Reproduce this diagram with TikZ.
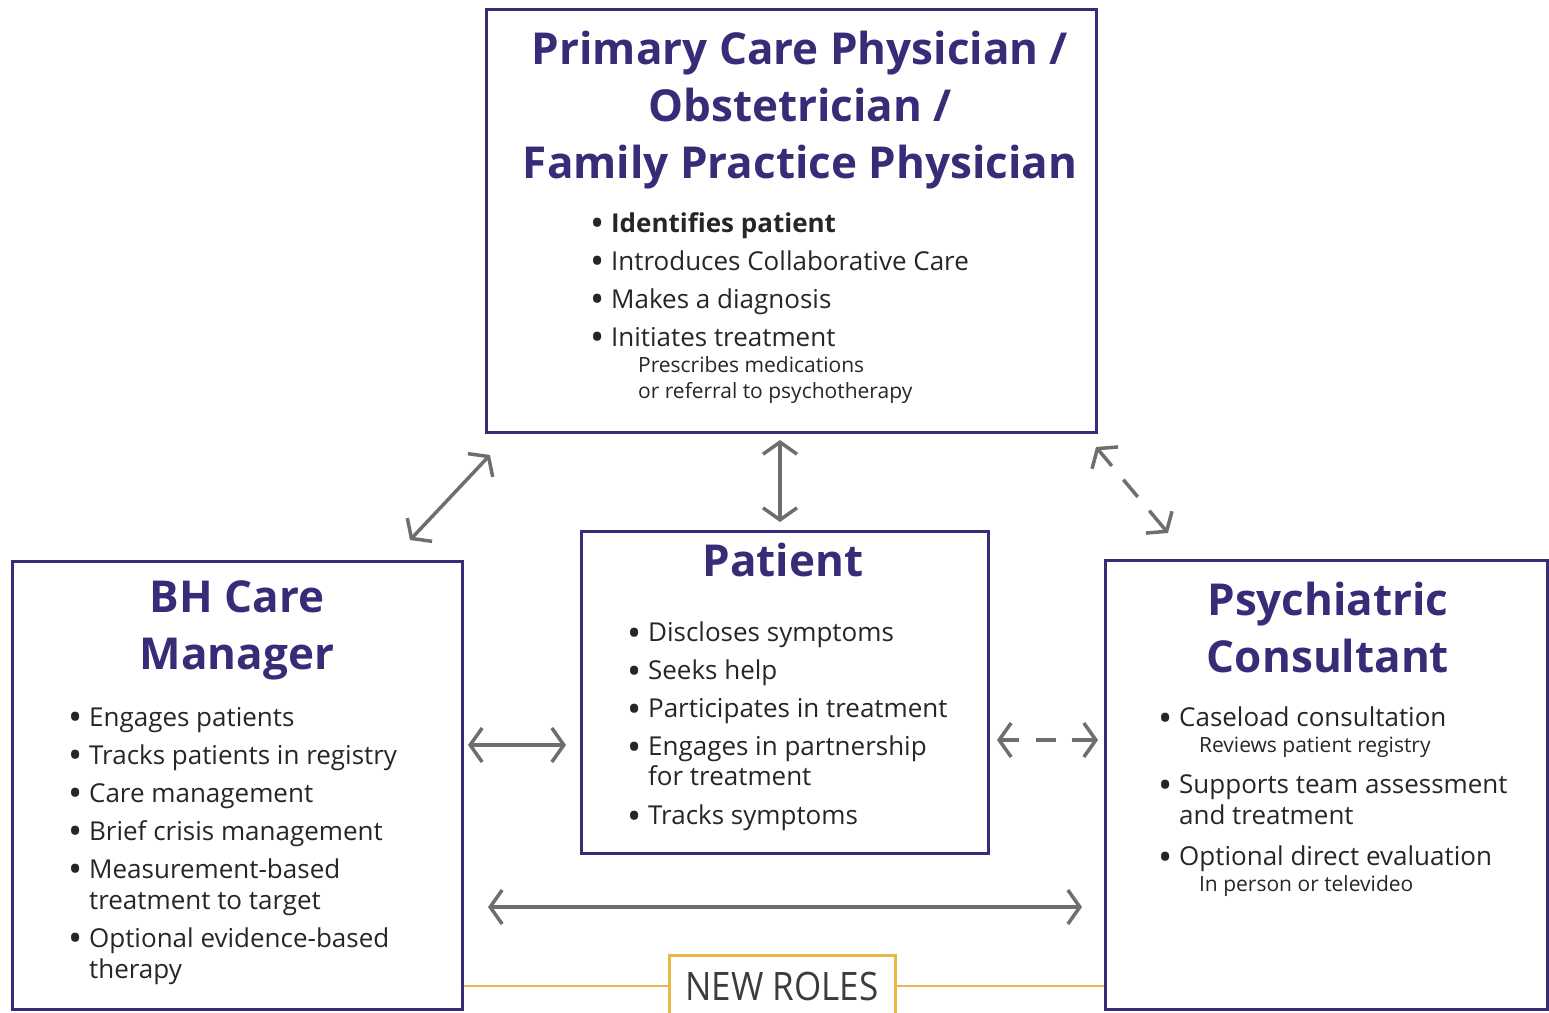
\documentclass[tikz,border=0pt]{standalone}
\usepackage{fontspec}
\setmainfont{Open Sans}
\usetikzlibrary{arrows.meta,calc}
\definecolor{rolepurple}{HTML}{3A2B78}
\definecolor{linkgray}{HTML}{6E6E6E}
\definecolor{newyellow}{HTML}{E8B948}
\definecolor{bodytext}{HTML}{262626}
\newcommand{\bul}{\raisebox{-0.32ex}{\scalebox{1.45}{\textbullet}}\ }
\newcommand{\hang}{\hphantom{\bul}}
\newcommand{\subline}[2][31pt]{{\fontsize{21}{26}\selectfont\hang\hspace{#1}#2}}

\begin{document}
\begin{tikzpicture}[x=1pt, y=-1pt,
    rolebox/.style={draw=rolepurple, line width=3pt, inner sep=0pt},
    roletitle/.style={text=rolepurple, align=center, font=\bfseries\fontsize{44}{57}\selectfont},
    duties/.style={text=bodytext, align=left, anchor=north west, inner sep=0pt, font=\fontsize{26}{38}\selectfont},
    link/.style={draw=linkgray, line width=3.5pt, {Straight Barb[length=12pt, width=34pt]}-{Straight Barb[length=12pt, width=34pt]}},
    halflink/.style={draw=linkgray, line width=3.5pt, -{Straight Barb[length=12pt, width=34pt]}},
    dashpiece/.style={draw=linkgray, line width=3.5pt}]
  \useasboundingbox (0,0) rectangle (1549,1012);

  % Role boxes
  \node[rolebox, minimum width=610pt, minimum height=423pt] (pcp) at (791,220.5) {};
  \node[rolebox, minimum width=407pt, minimum height=322pt] (patient) at (784.5,692) {};
  \node[rolebox, minimum width=450pt, minimum height=448pt] (bh) at (237,785) {};
  \node[rolebox, minimum width=442pt, minimum height=449pt] (psych) at (1326,784.5) {};

  % Titles
  \node[roletitle] (pcptitle) at (800,110) {Primary Care Physician /\\Obstetrician /\\Family Practice Physician};
  \node[roletitle] (patienttitle) at (783,560) {Patient};
  \node[roletitle] (bhtitle) at (237,630) {BH Care\\Manager};
  \node[roletitle] (psychtitle) at (1328,627) {Psychiatric\\Consultant};

  % Duties
  \node[duties] (pcplist) at (590,212) {%
    \bul \textbf{Identifies patient}\\
    \bul Introduces Collaborative Care\\
    \bul Makes a diagnosis\\
    \bul Initiates treatment\\[-12pt]
    \subline{Prescribes medications}\\[-12pt]
    \subline{or referral to psychotherapy}};
  \node[duties] (patientlist) at (627,622) {%
    \bul Discloses symptoms\\
    \bul Seeks help\\
    \bul Participates in treatment\\
    \bul Engages in partnership\\[-8pt]
    \hang for treatment\\[1pt]
    \bul Tracks symptoms};
  \node[duties] (bhlist) at (68,707) {%
    \bul Engages patients\\
    \bul Tracks patients in registry\\
    \bul Care management\\
    \bul Brief crisis management\\
    \bul Measurement-based\\[-7pt]
    \hang treatment to target\\
    \bul Optional evidence-based\\[-7pt]
    \hang therapy};
  \node[duties] (psychlist) at (1158,707) {%
    \bul Caseload consultation\\[-12pt]
    \subline[24pt]{Reviews patient registry}\\[3pt]
    \bul Supports team assessment\\[-7pt]
    \hang and treatment\\[3pt]
    \bul Optional direct evaluation\\[-12pt]
    \subline[24pt]{In person or televideo}};

  % New roles band
  \node[draw=newyellow, line width=3pt, minimum width=226pt, minimum height=62pt,
        text=bodytext!90, font=\fontsize{35}{40}\selectfont] (newroles) at (782,986) {\scalebox{1}[1.12]{NEW ROLES}};
  \draw[newyellow, line width=2.5pt] (bh.east |- newroles.west) -- (newroles.west);
  \draw[newyellow, line width=2.5pt] (newroles.east) -- (psych.west |- newroles.east);

  % Connectors
  \coordinate (bhup) at (410,540);
  \coordinate (pcpleft) at (490,455);
  \coordinate (pcpdown) at (780,440);
  \coordinate (patientup) at (780,522);
  \coordinate (pcpright) at (1096,447);
  \coordinate (psychup) at (1168,533);
  \coordinate (bhright) at (468,745);
  \coordinate (patientleft) at (566,745);
  \coordinate (patientright) at (997,740);
  \coordinate (psychleft) at (1098,740);
  \coordinate (bhlow) at (488,907);
  \coordinate (psychlow) at (1082,907);
  \draw[link] (bhup) -- (pcpleft);
  \draw[link] (pcpdown) -- (patientup);
  \draw[link] (bhright) -- (patientleft);
  \draw[link] (bhlow) -- (psychlow);

  % dashed links: solid tips, one dash between
  \draw[halflink] ($(pcpright)!0.22!(psychup)$) -- (pcpright);
  \draw[dashpiece] ($(pcpright)!0.38!(psychup)$) -- ($(pcpright)!0.58!(psychup)$);
  \draw[halflink] ($(pcpright)!0.74!(psychup)$) -- (psychup);
  \draw[halflink] ($(patientright)!0.22!(psychleft)$) -- (patientright);
  \draw[dashpiece] ($(patientright)!0.39!(psychleft)$) -- ($(patientright)!0.58!(psychleft)$);
  \draw[halflink] ($(patientright)!0.74!(psychleft)$) -- (psychleft);
\end{tikzpicture}
\end{document}
